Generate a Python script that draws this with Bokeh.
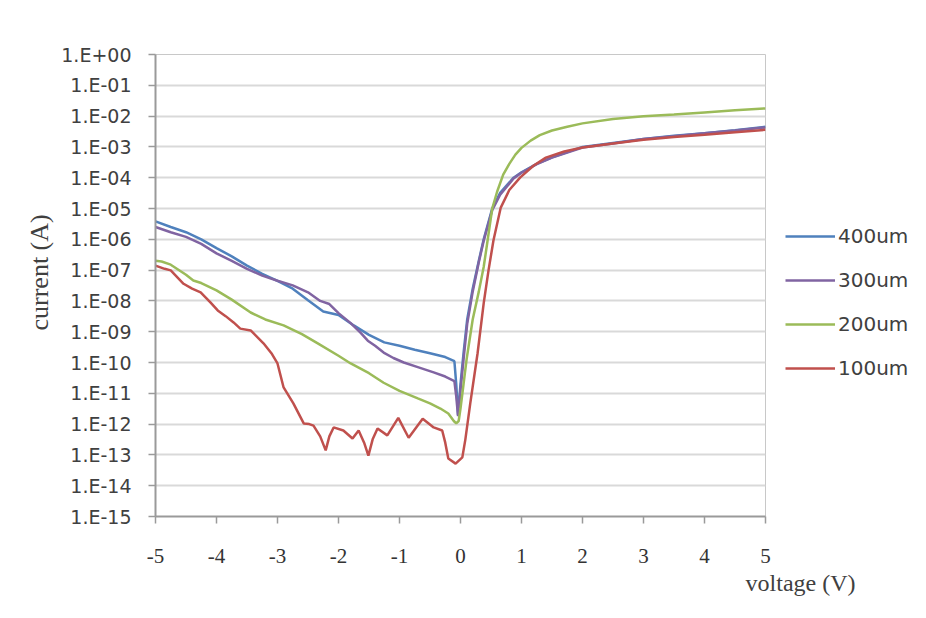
from bokeh.plotting import figure
from bokeh.models import (FixedTicker, CustomJSTickFormatter, Legend, LegendItem,
                          Title)
from bokeh.embed import file_html
from bokeh.resources import INLINE

# ---------------- data ----------------
series_names = ["400um", "300um", "200um", "100um"]
series_colors = ["#4F81BD", "#8064A2", "#9BBB59", "#C0504D"]

x_ticks = [-5, -4, -3, -2, -1, 0, 1, 2, 3, 4, 5]
y_ticks = [1e0, 1e-1, 1e-2, 1e-3, 1e-4, 1e-5, 1e-6, 1e-7, 1e-8, 1e-9,
           1e-10, 1e-11, 1e-12, 1e-13, 1e-14, 1e-15]

v_400 = [-5.0, -4.75, -4.5, -4.25, -4.0, -3.75, -3.5, -3.25, -3.0, -2.75, -2.5,
         -2.25, -2.0, -1.75, -1.5, -1.25, -1.0, -0.75, -0.5, -0.25, -0.1, -0.07,
         -0.04, 0.0, 0.05, 0.11, 0.2, 0.3, 0.38, 0.52, 0.65, 0.87, 1.0, 1.25,
         1.5, 2.0, 2.5, 3.0, 3.5, 4.0, 4.5, 5.0]
i_400 = [3.8e-6, 2.5e-6, 1.7e-6, 1.0e-6, 5.2e-7, 2.8e-7, 1.4e-7, 7.6e-8, 4.5e-8,
         2.5e-8, 1.05e-8, 4.5e-9, 3.5e-9, 1.6e-9, 7.9e-10, 4.5e-10, 3.5e-10,
         2.6e-10, 2.0e-10, 1.5e-10, 1.1e-10, 2.0e-11, 2.0e-12, 2.0e-11, 2.0e-10,
         2.5e-9, 2.5e-8, 2.0e-7, 1.0e-6, 1.0e-5, 3.2e-5, 1.0e-4, 1.5e-4, 2.8e-4,
         4.6e-4, 1.0e-3, 1.35e-3, 1.8e-3, 2.3e-3, 2.8e-3, 3.5e-3, 4.5e-3]

v_300 = [-5.0, -4.75, -4.5, -4.25, -4.0, -3.75, -3.5, -3.25, -3.0, -2.75, -2.5,
         -2.3, -2.15, -2.0, -1.8, -1.64, -1.52, -1.4, -1.26, -1.1, -0.93, -0.7,
         -0.44, -0.25, -0.1, -0.07, -0.04, 0.0, 0.05, 0.11, 0.2, 0.3, 0.38,
         0.52, 0.65, 0.87, 1.0, 1.25, 1.5, 2.0, 2.5, 3.0, 3.5, 4.0, 4.5, 5.0]
i_300 = [2.5e-6, 1.7e-6, 1.2e-6, 7.1e-7, 3.5e-7, 2.0e-7, 1.1e-7, 6.6e-8, 4.5e-8,
         3.2e-8, 1.9e-8, 1.0e-8, 7.9e-9, 4.0e-9, 1.9e-9, 9.3e-10, 5.1e-10,
         3.5e-10, 2.1e-10, 1.4e-10, 1.0e-10, 7.1e-11, 4.8e-11, 3.5e-11, 2.5e-11,
         7.9e-12, 1.8e-12, 1.26e-11, 1.26e-10, 1.8e-9, 2.0e-8, 1.8e-7, 8.9e-7,
         8.9e-6, 2.8e-5, 9.5e-5, 1.45e-4, 2.75e-4, 4.5e-4, 9.5e-4, 1.3e-3,
         1.8e-3, 2.2e-3, 2.75e-3, 3.4e-3, 4.3e-3]

v_200 = [-5.0, -4.9, -4.75, -4.5, -4.38, -4.25, -4.0, -3.75, -3.44, -3.2, -2.9,
         -2.6, -2.34, -2.0, -1.8, -1.5, -1.26, -1.0, -0.7, -0.5, -0.33, -0.2,
         -0.11, -0.07, -0.03, 0.0, 0.05, 0.1, 0.2, 0.3, 0.38, 0.44, 0.52, 0.6,
         0.7, 0.8, 0.9, 1.0, 1.15, 1.3, 1.5, 1.75, 2.0, 2.5, 3.0, 3.5, 4.0,
         4.5, 5.0]
i_200 = [2.0e-7, 1.9e-7, 1.5e-7, 7.1e-8, 4.6e-8, 3.8e-8, 2.2e-8, 1.1e-8, 4.2e-9,
         2.5e-9, 1.6e-9, 8.3e-10, 4.2e-10, 1.66e-10, 9.3e-11, 4.5e-11, 2.2e-11,
         1.2e-11, 6.8e-12, 4.7e-12, 3.2e-12, 2.2e-12, 1.26e-12, 1.05e-12,
         1.26e-12, 3.2e-12, 2.0e-11, 1.26e-10, 2.5e-9, 2.0e-8, 1.26e-7, 8.0e-7,
         1.0e-5, 3.5e-5, 1.26e-4, 2.8e-4, 5.6e-4, 9.3e-4, 1.6e-3, 2.4e-3,
         3.4e-3, 4.5e-3, 5.8e-3, 8.1e-3, 9.8e-3, 1.12e-2, 1.32e-2, 1.55e-2,
         1.78e-2]

v_100 = [-5.0, -4.85, -4.75, -4.54, -4.4, -4.26, -4.1, -3.98, -3.85, -3.72,
         -3.61, -3.44, -3.23, -3.1, -3.0, -2.9, -2.74, -2.57, -2.48, -2.41,
         -2.3, -2.21, -2.15, -2.08, -1.92, -1.77, -1.67, -1.58, -1.51, -1.44,
         -1.36, -1.2, -1.02, -0.85, -0.62, -0.44, -0.3, -0.25, -0.2, -0.08,
         0.03, 0.08, 0.16, 0.28, 0.38, 0.46, 0.54, 0.66, 0.8, 0.98, 1.2, 1.4,
         1.7, 2.0, 2.5, 3.0, 3.5, 4.0, 4.5, 5.0]
i_100 = [1.4e-7, 1.1e-7, 9.8e-8, 3.6e-8, 2.5e-8, 1.9e-8, 8.9e-9, 4.9e-9, 3.2e-9,
         2.0e-9, 1.26e-9, 1.1e-9, 4.2e-10, 2.0e-10, 9.3e-11, 1.55e-11, 4.7e-12,
         1.05e-12, 1.0e-12, 8.9e-13, 4.0e-13, 1.4e-13, 4.0e-13, 7.8e-13,
         6.2e-13, 3.4e-13, 6.2e-13, 2.5e-13, 9.5e-14, 3.2e-13, 7.2e-13,
         4.3e-13, 1.6e-12, 3.6e-13, 1.5e-12, 7.8e-13, 6.2e-13, 2.5e-13,
         7.6e-14, 5.2e-14, 8.3e-14, 3.2e-13, 4.7e-12, 2.0e-10, 8.3e-9, 1.0e-7,
         9.1e-7, 1.07e-5, 4.0e-5, 1.02e-4, 2.5e-4, 4.5e-4, 7.1e-4, 9.5e-4,
         1.3e-3, 1.7e-3, 2.1e-3, 2.5e-3, 3.0e-3, 3.6e-3]

voltages = [v_400, v_300, v_200, v_100]
currents = [i_400, i_300, i_200, i_100]

# ---------------- figure ----------------
p = figure(frame_width=610, frame_height=462, x_range=(-5, 5), y_range=(1e-15, 1),
           y_axis_type="log", output_backend="svg", toolbar_location=None,
           min_border_left=155, min_border_right=161, min_border_top=54,
           min_border_bottom=102, background_fill_color="white",
           border_fill_color="white")

p.outline_line_color = "#c8c8c8"
p.outline_line_width = 1

p.xgrid.visible = False
p.ygrid.grid_line_color = "#d9d9d9"
p.ygrid.grid_line_width = 2

# x axis
p.xaxis.ticker = FixedTicker(ticks=x_ticks)
p.xaxis.formatter = CustomJSTickFormatter(code="return tick.toFixed(0);")
p.xaxis.minor_tick_line_color = None
p.xaxis.major_tick_in = 0
p.xaxis.major_tick_out = 7
p.xaxis.axis_line_color = "#9a9a9a"
p.xaxis.axis_line_width = 2
p.xaxis.major_tick_line_color = "#9a9a9a"
p.xaxis.major_tick_line_width = 1.5
p.xaxis.major_label_text_font = "Liberation Serif"
p.xaxis.major_label_text_font_size = "21px"
p.xaxis.major_label_text_color = "#333333"
p.xaxis.major_label_standoff = 25

# y axis
p.yaxis.ticker = FixedTicker(ticks=y_ticks)
p.yaxis.formatter = CustomJSTickFormatter(code="""
const e = Math.round(Math.log10(tick));
const a = Math.abs(e);
return '1.E' + (e < 0 ? '-' : '+') + (a < 10 ? '0' + a : '' + a);
""")
p.yaxis.minor_tick_line_color = None
p.yaxis.major_tick_in = 0
p.yaxis.major_tick_out = 7
p.yaxis.axis_line_color = "#9a9a9a"
p.yaxis.axis_line_width = 2
p.yaxis.major_tick_line_color = "#9a9a9a"
p.yaxis.major_tick_line_width = 1.5
p.yaxis.major_label_text_font = "DejaVu Sans"
p.yaxis.major_label_text_font_size = "19px"
p.yaxis.major_label_text_color = "#404040"
p.yaxis.major_label_standoff = 17

renderers = []
for v, c, col in zip(voltages, currents, series_colors):
    r = p.line(v, c, line_color=col, line_width=2.5)
    renderers.append(r)

# legend in the right panel; an empty title pushes the entries down
legend = Legend(
    items=[LegendItem(label=n, renderers=[r]) for n, r in zip(series_names, renderers)],
    location="top_left", orientation="vertical",
    title=" ", title_text_font_size="4px", title_standoff=145,
    glyph_width=50, glyph_height=20, label_height=20, spacing=20,
    padding=0, margin=20, label_standoff=3,
    border_line_color=None, background_fill_alpha=0,
    label_text_font="DejaVu Sans", label_text_font_size="20px",
    label_text_color="#404040")
p.add_layout(legend, "right")

# axis titles placed like the reference (y title off-centre, x title at the right)
ytitle = Title(text="current (A)", align="left", offset=186,
               text_font="Liberation Serif", text_font_size="26px",
               text_font_style="normal", text_color="#404040", standoff=10)
p.add_layout(ytitle, "left")

xtitle = Title(text="voltage (V)", align="right", offset=-90,
               text_font="Liberation Serif", text_font_size="24px",
               text_font_style="normal", text_color="#404040", standoff=4)
p.add_layout(xtitle, "below")

open("out.html", "w").write(file_html(p, INLINE))
